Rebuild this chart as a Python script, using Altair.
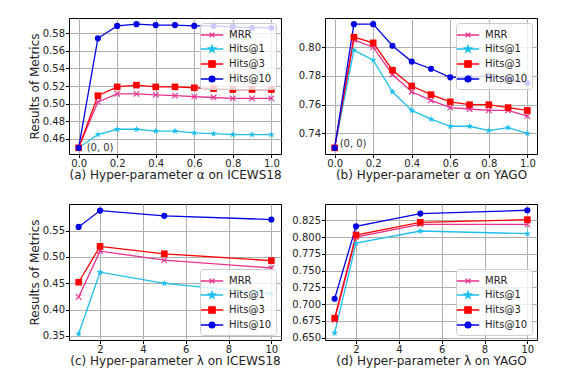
import altair as alt
import pandas as pd

series = ["MRR", "Hits@1", "Hits@3", "Hits@10"]
colors = ["#e8308c", "#1ebfef", "#ff0000", "#0000e6"]

alpha = [0.0, 0.1, 0.2, 0.3, 0.4, 0.5, 0.6, 0.7, 0.8, 0.9, 1.0]
a_mrr = [0.450, 0.502, 0.511, 0.511, 0.510, 0.509, 0.508, 0.507, 0.506, 0.506, 0.506]
a_h1 = [0.450, 0.465, 0.471, 0.471, 0.469, 0.469, 0.467, 0.466, 0.465, 0.465, 0.465]
a_h3 = [0.450, 0.509, 0.519, 0.521, 0.519, 0.519, 0.518, 0.517, 0.516, 0.516, 0.516]
a_h10 = [0.450, 0.574, 0.588, 0.590, 0.589, 0.589, 0.588, 0.588, 0.587, 0.586, 0.586]

b_mrr = [0.730, 0.805, 0.800, 0.781, 0.769, 0.763, 0.758, 0.757, 0.756, 0.756, 0.752]
b_h1 = [0.730, 0.798, 0.791, 0.769, 0.756, 0.750, 0.745, 0.745, 0.742, 0.744, 0.740]
b_h3 = [0.730, 0.807, 0.803, 0.784, 0.773, 0.767, 0.762, 0.760, 0.760, 0.758, 0.756]
b_h10 = [0.730, 0.816, 0.816, 0.801, 0.790, 0.785, 0.779, 0.779, 0.780, 0.778, 0.775]

lam = [1, 2, 5, 10]
c_mrr = [0.424, 0.511, 0.494, 0.479]
c_h1 = [0.354, 0.471, 0.450, 0.430]
c_h3 = [0.452, 0.520, 0.506, 0.493]
c_h10 = [0.557, 0.588, 0.578, 0.571]

d_mrr = [0.676, 0.800, 0.819, 0.819]
d_h1 = [0.657, 0.791, 0.809, 0.805]
d_h3 = [0.679, 0.803, 0.822, 0.826]
d_h10 = [0.708, 0.816, 0.835, 0.840]

a_yticks = [0.46, 0.48, 0.50, 0.52, 0.54, 0.56, 0.58]
b_yticks = [0.74, 0.76, 0.78, 0.80]
c_yticks = [0.35, 0.40, 0.45, 0.50, 0.55]
d_yticks = [0.650, 0.675, 0.700, 0.725, 0.750, 0.775, 0.800, 0.825]
alpha_ticks = [0.0, 0.2, 0.4, 0.6, 0.8, 1.0]
lam_ticks = [2, 4, 6, 8, 10]

titles = [
    "(a) Hyper-parameter α on ICEWS18",
    "(b) Hyper-parameter α on YAGO",
    "(c) Hyper-parameter λ on ICEWS18",
    "(d) Hyper-parameter λ on YAGO",
]
ylabel = "Results of Metrics"
annot_text = "(0, 0)"

STAR = ("M0,-1L0.235,-0.324L0.951,-0.309L0.380,0.124L0.588,0.809L0,0.4"
        "L-0.588,0.809L-0.380,0.124L-0.951,-0.309L-0.235,-0.324Z")
XMARK = "M-1,-1L1,1M1,-1L-1,1"
marker_shape = {"MRR": XMARK, "Hits@1": STAR, "Hits@3": "square", "Hits@10": "circle"}
marker_size = {"MRR": 30, "Hits@1": 52, "Hits@3": 44, "Hits@10": 38}

LINE = "M-1.6,0H1.6"
legend_paths = [
    LINE + "M-0.34,-0.34L0.34,0.34M0.34,-0.34L-0.34,0.34",
    LINE + ("M0,-0.5L0.118,-0.162L0.476,-0.155L0.19,0.062L0.294,0.405L0,0.2"
            "L-0.294,0.405L-0.19,0.062L-0.476,-0.155L-0.118,-0.162Z"),
    LINE + "M-0.45,-0.45H0.45V0.45H-0.45Z",
    LINE + "M0.42,0A0.42,0.42 0 1,1 -0.42,0A0.42,0.42 0 1,1 0.42,0Z",
]


def make_df(xs, vals):
    rows = []
    for s, v in zip(series, vals):
        for x, y in zip(xs, v):
            rows.append({"x": x, "y": y, "series": s})
    return pd.DataFrame(rows)


def panel(xs, vals, xdom, xticks, xfmt, ydom, yticks, yfmt, title, ytitle, orient, annot):
    df = make_df(xs, vals)
    X = alt.X("x:Q", scale=alt.Scale(domain=xdom, nice=False, zero=False),
              axis=alt.Axis(values=xticks, format=xfmt, title=title))
    if ytitle:
        yaxis = alt.Axis(values=yticks, format=yfmt, title=ytitle)
    else:
        yaxis = alt.Axis(values=yticks, format=yfmt, title="")
    Y = alt.Y("y:Q", scale=alt.Scale(domain=ydom, nice=False, zero=False), axis=yaxis)

    lines = alt.Chart(df).mark_line(strokeWidth=1.3).encode(
        x=X, y=Y,
        color=alt.Color("series:N", scale=alt.Scale(domain=series, range=colors), legend=None),
        detail="series:N",
    )
    layers = [lines]
    for s, c in zip(series, colors):
        filled = s != "MRR"
        pts = alt.Chart(df).transform_filter(alt.datum.series == s).mark_point(
            shape=marker_shape[s], size=marker_size[s], filled=filled,
            color=c, opacity=1, strokeWidth=1.1,
        ).encode(x=X, y=Y)
        layers.append(pts)

    leg = alt.Legend(title=None, orient=orient, offset=5, padding=4,
                     fillColor="rgba(255,255,255,0.8)", strokeColor="#cccccc",
                     cornerRadius=3, labelFontSize=10, labelColor="#222222",
                     symbolSize=196, symbolStrokeWidth=1.3, labelOffset=9,
                     rowPadding=1, symbolOpacity=1)
    legend_layer = alt.Chart(df).transform_filter("false").mark_point(
        filled=True, opacity=1, strokeWidth=1.3
    ).encode(
        x=X, y=Y,
        shape=alt.Shape("series:N", scale=alt.Scale(domain=series, range=legend_paths), legend=leg),
        fill=alt.Fill("series:N", scale=alt.Scale(domain=series, range=colors), legend=leg),
        stroke=alt.Stroke("series:N", scale=alt.Scale(domain=series, range=colors), legend=leg),
    )
    layers.append(legend_layer)

    if annot is not None:
        adf = pd.DataFrame({"x": [annot[0]], "y": [annot[1]], "t": [annot_text]})
        txt = alt.Chart(adf).mark_text(align="left", baseline="middle", dx=annot[2], dy=annot[3],
                                       fontSize=10, color="#333333").encode(x=X, y=Y, text="t:N")
        layers.append(txt)

    return alt.layer(*layers).properties(width=212, height=136)


pa = panel(alpha, [a_mrr, a_h1, a_h3, a_h10], [-0.05, 1.05], alpha_ticks, ".1f",
           [0.443, 0.597], a_yticks, ".2f", titles[0], ylabel, "top-right", (0.0, 0.45, 8, 0))
pb = panel(alpha, [b_mrr, b_h1, b_h3, b_h10], [-0.05, 1.05], alpha_ticks, ".1f",
           [0.7257, 0.8203], b_yticks, ".2f", titles[1], None, "top-right", (0.0, 0.73, 5, -4))
pc = panel(lam, [c_mrr, c_h1, c_h3, c_h10], [0.55, 10.45], lam_ticks, "d",
           [0.3423, 0.6005], c_yticks, ".2f", titles[2], ylabel, "bottom-right", None)
pd_ = panel(lam, [d_mrr, d_h1, d_h3, d_h10], [0.55, 10.45], lam_ticks, "d",
            [0.6465, 0.8493], d_yticks, ".3f", titles[3], None, "bottom-right", None)

chart = alt.concat(pa, pb, pc, pd_, columns=2, spacing={"row": 22, "column": 9}).resolve_scale(
    x="independent", y="independent"
).properties(
    padding={"left": 19, "top": 9, "right": 5, "bottom": 5}
).configure_view(
    stroke="#000000", strokeWidth=1
).configure_axis(
    grid=True, gridColor="#b0b0b0", gridWidth=1, domain=False,
    tickColor="#000000", tickSize=3.5, tickWidth=1,
    labelFont="DejaVu Sans", labelFontSize=10, labelColor="#222222", labelPadding=1,
    titleFont="DejaVu Sans", titleFontSize=12, titleFontWeight="normal", titleColor="#222222",
    titlePadding=1,
).configure_legend(
    labelFont="DejaVu Sans"
).configure_text(font="DejaVu Sans")

chart.save("out.html", embed_options={"renderer": "svg", "actions": False})
